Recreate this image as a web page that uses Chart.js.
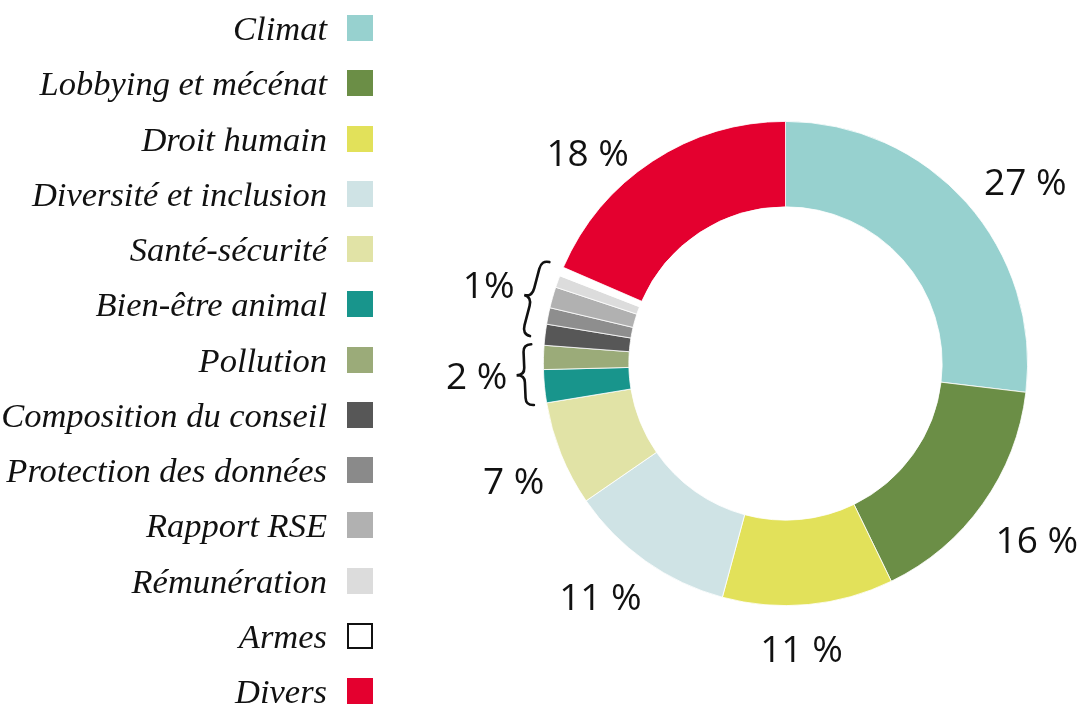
<!DOCTYPE html>
<html>
<head>
<meta charset="utf-8">
<script src="https://cdn.jsdelivr.net/npm/chart.js@4.4.1/dist/chart.umd.min.js"></script>
<style>
  html, body { margin: 0; padding: 0; background: #fff; }
  #wrap { position: relative; width: 1081px; height: 706px; overflow: hidden; }
  #c { position: absolute; left: 0; top: 0; }
  .row { position: absolute; left: 0; width: 374px; height: 27px; }
  .row .txt { position: absolute; right: 47px; bottom: -3px; white-space: nowrap;
    font-family: "Liberation Serif", serif; font-style: italic; font-size: 34.5px; line-height: 34px; color: #111; }
  .row .box { position: absolute; left: 347px; top: 0; width: 26px; height: 26px; box-sizing: border-box; }
</style>
</head>
<body>
<div id="wrap">
  <canvas id="c" width="1081" height="706"></canvas>
  <div id="legend"></div>
</div>
<script>
const categories = ['Climat', 'Lobbying et mécénat', 'Droit humain', 'Diversité et inclusion',
  'Santé-sécurité', 'Bien-être animal', 'Pollution', 'Composition du conseil',
  'Protection des données', 'Rapport RSE', 'Rémunération', 'Armes', 'Divers'];
const shares = [26.9, 15.9, 11.4, 11.2, 7.0, 2.2, 1.6, 1.4, 1.1, 1.4, 0.8, 0.6, 18.5];
const colors = ['#97d1cf', '#6b8e46', '#e2e15a', '#cfe3e5', '#e1e3a6', '#18958c', '#9bab79',
  '#575757', '#8e8e8e', '#b1b1b1', '#dcdcdc', '#ffffff', '#e4002f'];
const legendColors = ['#97d1cf', '#6b8e46', '#e2e15a', '#cfe3e5', '#e1e3a6', '#18958c', '#9bab79',
  '#575757', '#8a8a8a', '#b1b1b1', '#dcdcdc', '#ffffff', '#e4002f'];
const labelTexts = ['27 %', '16 %', '11 %', '11 %', '7 %', '2 %', '1%', '18 %'];
const labelGroups = [[0], [1], [2], [3], [4], [5, 6], [7, 8, 9, 10], [12]];
const braceGroups = [[5, 6], [7, 8, 9, 10]];

// placement style (degrees nudge from group mid-angle, distance from centre)
const labelNudge = [4.4, -0.4, 2.2, 3.2, -1.3, 0.3, 2.0, -9.9];
const labelDist = [301, 307, 286, 297.5, 296, 309, 307, 289];
const bracePad = [[0, 0], [1.8, 2.0]];
const braceDist = [255, 257];

// legend
const legend = document.getElementById('legend');
categories.forEach((name, i) => {
  const row = document.createElement('div');
  row.className = 'row';
  row.style.top = (15 + i * 55.25) + 'px';
  const t = document.createElement('span');
  t.className = 'txt';
  t.textContent = name;
  const b = document.createElement('span');
  b.className = 'box';
  b.style.background = legendColors[i];
  if (name === 'Armes') b.style.border = '2px solid #111';
  row.appendChild(t); row.appendChild(b);
  legend.appendChild(row);
});

function groupAngles(meta, idxs) {
  const s = meta.data[idxs[0]].startAngle;
  const e = meta.data[idxs[idxs.length - 1]].endAngle;
  return [s, e];
}

const annotate = {
  id: 'annotate',
  afterDatasetsDraw(chart) {
    const ctx = chart.ctx;
    const meta = chart.getDatasetMeta(0);
    const cx = meta.data[0].x, cy = meta.data[0].y;
    const D = Math.PI / 180;
    ctx.save();
    ctx.fillStyle = '#111';
    const fs = 37;
    ctx.font = fs + 'px "Open Sans", "Noto Sans", sans-serif';
    ctx.textAlign = 'center';
    ctx.textBaseline = 'alphabetic';
    labelGroups.forEach((g, k) => {
      const [s, e] = groupAngles(meta, g);
      const a = (s + e) / 2 + labelNudge[k] * D;
      const r = labelDist[k];
      const x = cx + r * Math.cos(a);
      const y = cy + r * Math.sin(a);
      ctx.fillText(labelTexts[k], x, y + fs * 0.714 / 2);
    });
    // braces
    ctx.strokeStyle = '#111';
    ctx.lineWidth = 2.6;
    ctx.lineCap = 'round';
    braceGroups.forEach((g, k) => {
      const [s0, e0] = groupAngles(meta, g);
      const s = s0 + bracePad[k][0] * D, e = e0 + bracePad[k][1] * D;
      const r = braceDist[k];
      const p1 = [cx + r * Math.cos(s), cy + r * Math.sin(s)];
      const p2 = [cx + r * Math.cos(e), cy + r * Math.sin(e)];
      const L = Math.hypot(p2[0] - p1[0], p2[1] - p1[1]);
      const ux = (p2[0] - p1[0]) / L, uy = (p2[1] - p1[1]) / L;
      let vx = -uy, vy = ux;
      const mx = (p1[0] + p2[0]) / 2, my = (p1[1] + p2[1]) / 2;
      if ((mx - cx) * vx + (my - cy) * vy < 0) { vx = -vx; vy = -vy; }
      const h = 16;
      const P = (u, v) => [p1[0] + ux * u + vx * v, p1[1] + uy * u + vy * v];
      const q = L * 0.12;
      ctx.beginPath();
      let p = P(0, 0); ctx.moveTo(p[0], p[1]);
      let c = P(0, h * 0.5); p = P(q, h * 0.5); ctx.quadraticCurveTo(c[0], c[1], p[0], p[1]);
      p = P(L / 2 - q, h * 0.5); ctx.lineTo(p[0], p[1]);
      c = P(L / 2, h * 0.5); p = P(L / 2, h); ctx.quadraticCurveTo(c[0], c[1], p[0], p[1]);
      c = P(L / 2, h * 0.5); p = P(L / 2 + q, h * 0.5); ctx.quadraticCurveTo(c[0], c[1], p[0], p[1]);
      p = P(L - q, h * 0.5); ctx.lineTo(p[0], p[1]);
      c = P(L, h * 0.5); p = P(L, 0); ctx.quadraticCurveTo(c[0], c[1], p[0], p[1]);
      ctx.stroke();
    });
    ctx.restore();
  }
};

new Chart(document.getElementById('c'), {
  type: 'doughnut',
  data: {
    labels: categories,
    datasets: [{
      data: shares,
      backgroundColor: colors,
      borderColor: '#ffffff',
      borderWidth: 0.8,
      hoverOffset: 0
    }]
  },
  options: {
    responsive: false,
    devicePixelRatio: 1,
    animation: false,
    cutout: '64.7%',
    layout: { padding: { left: 543, right: 53, top: 121, bottom: 100 } },
    plugins: { legend: { display: false }, tooltip: { enabled: false } },
    events: []
  },
  plugins: [annotate]
});
</script>
</body>
</html>
